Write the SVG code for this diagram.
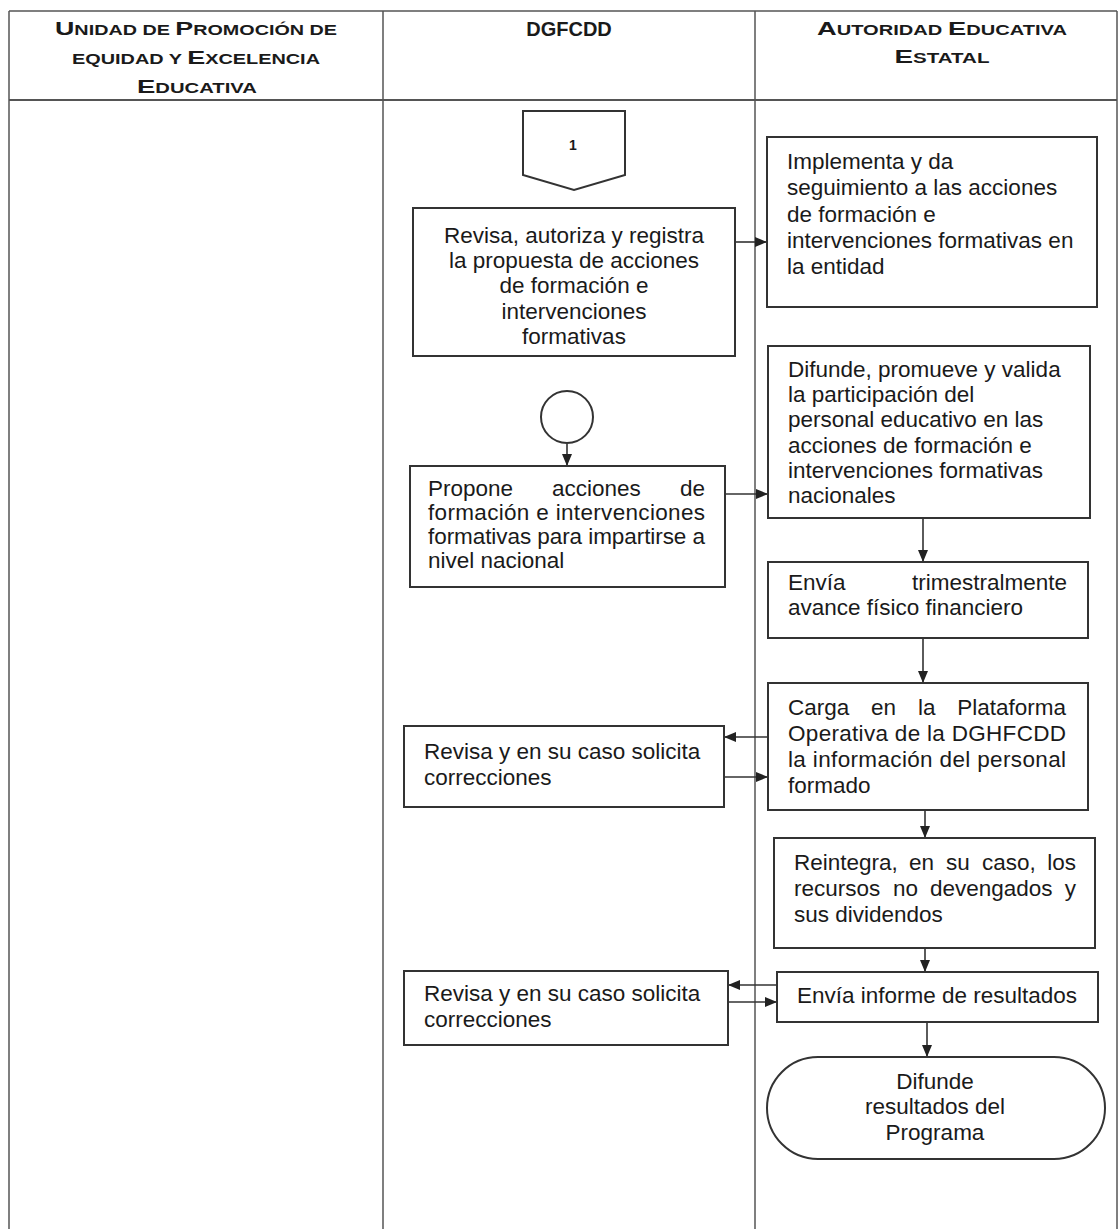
<svg xmlns="http://www.w3.org/2000/svg" width="1118" height="1229" viewBox="0 0 1118 1229">
<style>
.tbl{stroke:#555;stroke-width:1.5;fill:none}
.box{fill:#fff;stroke:#333;stroke-width:2}
.t{font-family:"Liberation Sans",Arial,sans-serif;font-size:22.5px;fill:#1a1a1a}
.h{font-family:"Liberation Sans",Arial,sans-serif;font-weight:bold;fill:#1a1a1a;text-anchor:middle}
.c{text-anchor:middle}
.e{text-anchor:end}
.conn{stroke:#333;stroke-width:1.6;fill:none;marker-end:url(#ah)}
</style>
<defs>
<marker id="ah" markerUnits="userSpaceOnUse" markerWidth="12" markerHeight="10" viewBox="0 0 12 10" refX="12" refY="5" orient="auto">
<path d="M0,0 L12,5 L0,10 Z" fill="#222"/>
</marker>
</defs>
<rect width="1118" height="1229" fill="#fff"/>
<g id="table">
<line class="tbl" x1="9" y1="11" x2="1117" y2="11"/>
<line class="tbl" x1="9" y1="100" x2="1117" y2="100" style="stroke-width:2"/>
<line class="tbl" x1="9" y1="11" x2="9" y2="1229"/>
<line class="tbl" x1="383" y1="11" x2="383" y2="1229"/>
<line class="tbl" x1="755" y1="11" x2="755" y2="1229"/>
<line class="tbl" x1="1117" y1="11" x2="1117" y2="1229"/>
<text class="h" x="196" y="35" textLength="282" lengthAdjust="spacingAndGlyphs"><tspan font-size="19">U</tspan><tspan font-size="14">NIDAD DE </tspan><tspan font-size="19">P</tspan><tspan font-size="14">ROMOCIÓN DE</tspan></text>
<text class="h" x="196" y="64" textLength="248" lengthAdjust="spacingAndGlyphs"><tspan font-size="14">EQUIDAD Y </tspan><tspan font-size="19">E</tspan><tspan font-size="14">XCELENCIA</tspan></text>
<text class="h" x="197" y="93" textLength="120" lengthAdjust="spacingAndGlyphs"><tspan font-size="19">E</tspan><tspan font-size="14">DUCATIVA</tspan></text>
<text class="h" x="569" y="36" font-size="20">DGFCDD</text>
<text class="h" x="942" y="35" textLength="250" lengthAdjust="spacingAndGlyphs"><tspan font-size="19">A</tspan><tspan font-size="14">UTORIDAD </tspan><tspan font-size="19">E</tspan><tspan font-size="14">DUCATIVA</tspan></text>
<text class="h" x="942" y="63" textLength="95" lengthAdjust="spacingAndGlyphs"><tspan font-size="19">E</tspan><tspan font-size="14">STATAL</tspan></text>
</g>
<g id="connectors">
<line class="conn" x1="567" y1="444" x2="567" y2="466"/>
<line class="conn" x1="735" y1="242" x2="767" y2="242"/>
<line class="conn" x1="725" y1="494" x2="768" y2="494"/>
<line class="conn" x1="923" y1="518" x2="923" y2="562"/>
<line class="conn" x1="923" y1="638" x2="923" y2="683"/>
<line class="conn" x1="768" y1="737" x2="724" y2="737"/>
<line class="conn" x1="724" y1="777" x2="768" y2="777"/>
<line class="conn" x1="925" y1="810" x2="925" y2="838"/>
<line class="conn" x1="925" y1="948" x2="925" y2="972"/>
<line class="conn" x1="777" y1="985" x2="728" y2="985"/>
<line class="conn" x1="728" y1="1002" x2="777" y2="1002"/>
<line class="conn" x1="927" y1="1022" x2="927" y2="1057"/>
</g>
<g id="offpage1">
<polygon class="box" points="523,111 625,111 625,175 574,190 523,175"/>
<text class="h" x="573" y="150" font-size="14">1</text>
</g>
<g id="revisa-autoriza">
<rect class="box" x="413" y="208" width="322" height="148"/>
<text class="t c" x="574" y="243">Revisa, autoriza y registra</text>
<text class="t c" x="574" y="268">la propuesta de acciones</text>
<text class="t c" x="574" y="293">de formación e</text>
<text class="t c" x="574" y="319">intervenciones</text>
<text class="t c" x="574" y="344">formativas</text>
</g>
<g id="implementa">
<rect class="box" x="767" y="137" width="330" height="170"/>
<text class="t" x="787" y="169">Implementa y da</text>
<text class="t" x="787" y="195">seguimiento a las acciones</text>
<text class="t" x="787" y="222">de formación e</text>
<text class="t" x="787" y="248">intervenciones formativas en</text>
<text class="t" x="787" y="274">la entidad</text>
</g>
<g id="inicio">
<circle class="box" cx="567" cy="417" r="26"/>
</g>
<g id="propone">
<rect class="box" x="410" y="466" width="315" height="121"/>
<text class="t" x="428" y="496">Propone</text>
<text class="t" x="552" y="496">acciones</text>
<text class="t e" x="705" y="496">de</text>
<text class="t" x="428" y="520" textLength="277" lengthAdjust="spacing">formación e intervenciones</text>
<text class="t" x="428" y="544" textLength="277" lengthAdjust="spacing">formativas para impartirse a</text>
<text class="t" x="428" y="568">nivel nacional</text>
</g>
<g id="difunde-promueve">
<rect class="box" x="768" y="346" width="322" height="172"/>
<text class="t" x="788" y="377">Difunde, promueve y valida</text>
<text class="t" x="788" y="402">la participación del</text>
<text class="t" x="788" y="427">personal educativo en las</text>
<text class="t" x="788" y="453">acciones de formación e</text>
<text class="t" x="788" y="478">intervenciones formativas</text>
<text class="t" x="788" y="503">nacionales</text>
</g>
<g id="envia-trimestral">
<rect class="box" x="768" y="562" width="320" height="76"/>
<text class="t" x="788" y="590">Envía</text>
<text class="t e" x="1067" y="590">trimestralmente</text>
<text class="t" x="788" y="615">avance físico financiero</text>
</g>
<g id="carga">
<rect class="box" x="768" y="683" width="320" height="127"/>
<text class="t" x="788" y="715">Carga</text>
<text class="t" x="871" y="715">en</text>
<text class="t" x="918" y="715">la</text>
<text class="t e" x="1066" y="715">Plataforma</text>
<text class="t" x="788" y="741" textLength="278" lengthAdjust="spacing">Operativa de la DGHFCDD</text>
<text class="t" x="788" y="767" textLength="278" lengthAdjust="spacing">la información del personal</text>
<text class="t" x="788" y="793">formado</text>
</g>
<g id="revisa-correcciones-1">
<rect class="box" x="404" y="726" width="320" height="81"/>
<text class="t" x="424" y="759">Revisa y en su caso solicita</text>
<text class="t" x="424" y="785">correcciones</text>
</g>
<g id="reintegra">
<rect class="box" x="774" y="838" width="321" height="110"/>
<text class="t" x="794" y="870">Reintegra,</text>
<text class="t" x="909" y="870">en</text>
<text class="t" x="946" y="870">su</text>
<text class="t" x="982" y="870">caso,</text>
<text class="t e" x="1076" y="870">los</text>
<text class="t" x="794" y="896">recursos</text>
<text class="t" x="893" y="896">no</text>
<text class="t" x="930" y="896">devengados</text>
<text class="t e" x="1076" y="896">y</text>
<text class="t" x="794" y="922">sus dividendos</text>
</g>
<g id="envia-informe">
<rect class="box" x="777" y="972" width="321" height="50"/>
<text class="t c" x="937" y="1003">Envía informe de resultados</text>
</g>
<g id="revisa-correcciones-2">
<rect class="box" x="404" y="971" width="324" height="74"/>
<text class="t" x="424" y="1001">Revisa y en su caso solicita</text>
<text class="t" x="424" y="1027">correcciones</text>
</g>
<g id="difunde-resultados">
<rect class="box" x="767" y="1057" width="338" height="102" rx="51" ry="51"/>
<text class="t c" x="935" y="1089">Difunde</text>
<text class="t c" x="935" y="1114">resultados del</text>
<text class="t c" x="935" y="1140">Programa</text>
</g>
</svg>
